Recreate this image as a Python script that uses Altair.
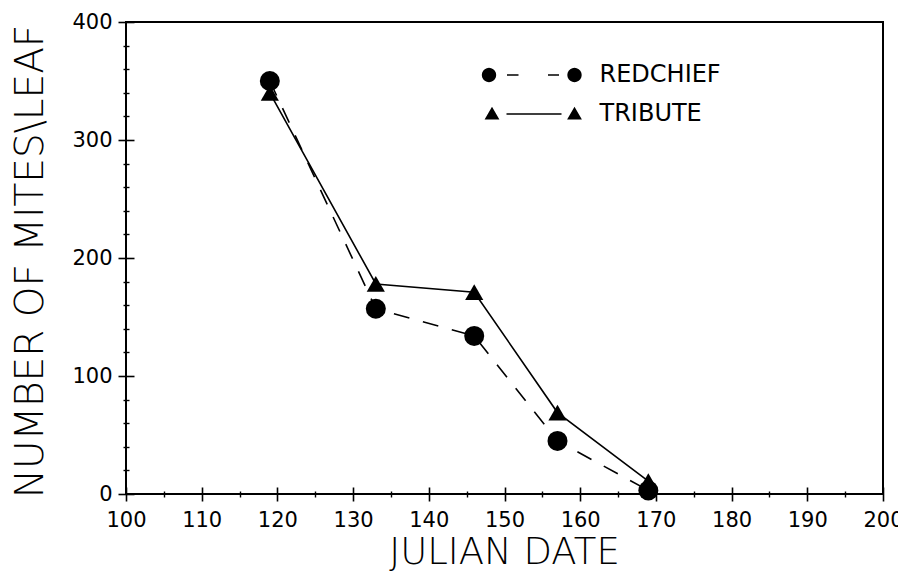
import math
import altair as alt
import pandas as pd

# ---- data ----
days = [119, 133, 146, 157, 169]
redchief = [350, 157, 134, 45, 3]
tribute = [340, 178, 171, 69, 11]
series_names = ["REDCHIEF", "TRIBUTE"]
x_major = [100, 110, 120, 130, 140, 150, 160, 170, 180, 190, 200]
x_minor = [105, 115, 125, 135, 145, 155, 165, 175, 185, 195]
y_major = [0, 100, 200, 300, 400]
y_minor = [20, 40, 60, 80, 120, 140, 160, 180, 220, 240, 260, 280, 320, 340, 360, 380]

df = pd.DataFrame({
    "day": days + days,
    "mites": redchief + tribute,
    "series": [series_names[0]] * len(days) + [series_names[1]] * len(days),
})

FONT = "DejaVu Sans"


def circ(cx, r, n=20):
    pts = [(cx + r * math.cos(2 * math.pi * i / n), r * math.sin(2 * math.pi * i / n)) for i in range(n)]
    return "M " + " L ".join(f"{x:.3f} {y:.3f}" for x, y in pts) + " Z"


def tri(cx, hw=0.74, top=-0.72, bot=0.56):
    return f"M {cx:.3f} {top} L {cx + hw:.3f} {bot} L {cx - hw:.3f} {bot} Z"


def bar(x0, x1, h=0.08):
    return f"M {x0} {-h} L {x1} {-h} L {x1} {h} L {x0} {h} Z"


red_sym = " ".join([circ(-8.55, 0.72), circ(0, 0.72), bar(-6.75, -5.6), bar(-2.65, -1.55)])
trib_sym = " ".join([tri(-8.25), tri(0), bar(-6.8, -1.3)])

xscale = alt.Scale(domain=[100, 200], nice=False, zero=False)
yscale = alt.Scale(domain=[0, 400], nice=False)

major_x = alt.Axis(values=x_major, format="d", orient="bottom", offset=-7, tickSize=14,
                   tickWidth=1.6, tickColor="black", domain=False, grid=False,
                   labelFont=FONT, labelFontSize=21, labelColor="black", labelPadding=8,
                   labelFlush=False, labelOverlap=False,
                   title="JULIAN DATE", titleFont=FONT, titleFontSize=37, titleFontWeight=200,
                   titleColor="black", titleX=378, titleY=76, titleBaseline="alphabetic")
major_y = alt.Axis(values=y_major, format="d", orient="left", offset=-8, tickSize=16,
                   tickWidth=1.6, tickColor="black", domain=False, grid=False,
                   labelFont=FONT, labelFontSize=21, labelColor="black", labelPadding=6,
                   labelFlush=False, labelOverlap=False,
                   title="NUMBER OF MITES\\LEAF", titleFont=FONT, titleFontSize=39,
                   titleFontWeight=200, titleColor="black", titleAngle=270, titleX=-92,
                   titleY=239, titleBaseline="alphabetic", titleAlign="center")
minor_x = alt.Axis(values=x_minor, orient="bottom", offset=-3, tickSize=6, tickWidth=1.4,
                   tickColor="black", domain=False, grid=False, labels=False, title=None)
minor_y = alt.Axis(values=y_minor, orient="left", offset=-3, tickSize=6, tickWidth=1.4,
                   tickColor="black", domain=False, grid=False, labels=False, title=None)

base = alt.Chart(df)

trib_line = base.transform_filter(alt.datum.series == "TRIBUTE").mark_line(
    color="black", strokeWidth=1.6).encode(
    x=alt.X("day:Q", scale=xscale, axis=major_x),
    y=alt.Y("mites:Q", scale=yscale, axis=major_y))

red_line = base.transform_filter(alt.datum.series == "REDCHIEF").mark_line(
    color="black", strokeWidth=1.6, strokeDash=[16, 14]).encode(
    x=alt.X("day:Q", scale=xscale, axis=minor_x),
    y=alt.Y("mites:Q", scale=yscale, axis=minor_y))

red_pts = base.transform_filter(alt.datum.series == "REDCHIEF").mark_point(
    shape="circle", filled=True, size=400, color="black", opacity=1).encode(
    x=alt.X("day:Q", scale=xscale, axis=None),
    y=alt.Y("mites:Q", scale=yscale, axis=None))

trib_pts = base.transform_filter(alt.datum.series == "TRIBUTE").mark_point(
    shape="triangle-up", filled=True, size=330, color="black", opacity=1).encode(
    x=alt.X("day:Q", scale=xscale, axis=None),
    y=alt.Y("mites:Q", scale=yscale, axis=None))

legend_layer = base.transform_filter("datum.day < 0").mark_point(
    filled=True, color="black", opacity=1).encode(
    shape=alt.Shape("series:N",
                    scale=alt.Scale(domain=series_names, range=[red_sym, trib_sym]),
                    legend=alt.Legend(orient="none", legendX=436.5, legendY=41, title=None,
                                      symbolSize=400, labelFont=FONT, labelFontSize=24,
                                      labelColor="black", labelOffset=13, rowPadding=15,
                                      padding=0, symbolFillColor="black",
                                      symbolOpacity=1)))

chart = alt.layer(trib_line, red_line, red_pts, trib_pts, legend_layer).resolve_axis(
    x="independent", y="independent").properties(
    width=757, height=472,
    autosize=alt.AutoSizeParams(type="none"),
    padding={"left": 118, "top": 14, "right": 15, "bottom": 77},
    background="white",
).configure_view(stroke="black", strokeWidth=2)

chart.save("out.html", embed_options={"renderer": "svg", "actions": False})
